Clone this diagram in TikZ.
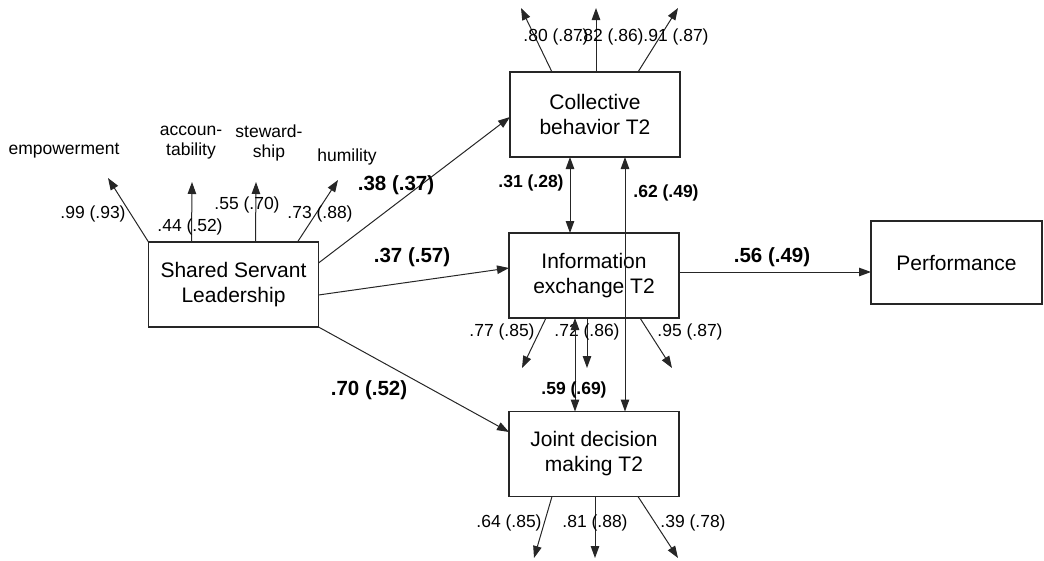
\documentclass[tikz,border=0pt]{standalone}
\usepackage{fontspec}
\setmainfont{Liberation Sans}
\usetikzlibrary{
	arrows.meta,
	positioning
}

\begin{document}
\begin{tikzpicture}[
    x=1pt, y=-1pt,
    box/.style={
        rectangle,
        draw=black!85,
        line width=1.1pt,
        minimum width=170pt,
        minimum height=85pt,
        inner sep=2pt,
        outer sep=0pt,
        font=\fontsize{21}{25}\selectfont,
        align=center
    },
    coef/.style={
        inner sep=0pt,
        font=\fontsize{17.5}{20}\selectfont,
        align=center
    },
    corr_label/.style={
        inner sep=0pt,
        font=\fontsize{17.5}{20}\selectfont\bfseries
    },
    path_label/.style={
        inner sep=0pt,
        font=\fontsize{20.5}{24}\selectfont\bfseries
    },
    data_edge/.style={
        -{Triangle[length=12pt,width=8.5pt]},
        line width=1pt,
        draw=black!85
    },
    corr_edge/.style={
        {Triangle[length=12pt,width=8.5pt]}-{Triangle[length=12pt,width=8.5pt]},
        line width=1pt,
        draw=black!85
    }
]
    \useasboundingbox (0,0) rectangle (1044,560);

    % ====== boxes ======
    \node[box] (ssl) at (233.5, 284.5) {Shared Servant\\Leadership};
    \node[box] (cb) at (595, 114.5) {Collective\\behavior T2};
    \node[box] (ie) at (594, 275.5) {Information\\exchange T2};
    \node[box] (jd) at (594, 454) {Joint decision\\making T2};
    \node[box, minimum width=171pt, minimum height=83pt] (perf) at (956.5, 262.5) {Performance};

    % ====== indicators of shared servant leadership ======
    \coordinate (emp) at (108, 178);
    \coordinate (acc) at (192, 182);
    \coordinate (stew) at (256, 182);
    \coordinate (hum) at (338, 180);
    \draw[data_edge] (ssl.north west) -- (emp);
    \draw[data_edge] ([xshift=43pt]ssl.north west) -- (acc);
    \draw[data_edge] ([xshift=107pt]ssl.north west) -- (stew);
    \draw[data_edge] ([xshift=149pt]ssl.north west) -- (hum);

    \node[coef] (emp_name) at (64, 151) {empowerment};
    \node[coef] (acc_name) at (191, 143) {accoun-\\tability};
    \node[coef] (stew_name) at (269, 143) {steward-\\ship};
    \node[coef] (hum_name) at (347, 157) {humility};
    \node[coef] (emp_load) at (93, 214) {.99 (.93)};
    \node[coef] (acc_load) at (190, 227) {.44 (.52)};
    \node[coef] (stew_load) at (247, 205) {.55 (.70)};
    \node[coef] (hum_load) at (320, 214) {.73 (.88)};

    % ====== indicators of the T2 team processes ======
    \coordinate (cb_a) at (521, 8);
    \coordinate (cb_b) at (596, 8);
    \coordinate (cb_c) at (678, 8);
    \draw[data_edge] ([xshift=42pt]cb.north west) -- (cb_a);
    \draw[data_edge] ([xshift=86pt]cb.north west) -- (cb_b);
    \draw[data_edge] ([xshift=128pt]cb.north west) -- (cb_c);
    \node[coef] at (556, 37) {.80 (.87)};
    \node[coef] at (611, 37) {.82 (.86)};
    \node[coef] at (676, 37) {.91 (.87)};

    \coordinate (ie_a) at (522, 368);
    \coordinate (ie_b) at (587, 368);
    \coordinate (ie_c) at (672, 368);
    \draw[data_edge] ([xshift=37pt]ie.south west) -- (ie_a);
    \draw[data_edge] ([xshift=78pt]ie.south west) -- (ie_b);
    \draw[data_edge] ([xshift=131pt]ie.south west) -- (ie_c);
    \node[coef] at (502, 332) {.77 (.85)};
    \node[coef] at (587, 332) {.72 (.86)};
    \node[coef] at (690, 332) {.95 (.87)};

    \coordinate (jd_a) at (534, 558);
    \coordinate (jd_b) at (595, 558);
    \coordinate (jd_c) at (678, 558);
    \draw[data_edge] ([xshift=43pt]jd.south west) -- (jd_a);
    \draw[data_edge] ([xshift=86pt]jd.south west) -- (jd_b);
    \draw[data_edge] ([xshift=129pt]jd.south west) -- (jd_c);
    \node[coef] at (509, 523) {.64 (.85)};
    \node[coef] at (595, 523) {.81 (.88)};
    \node[coef] at (693, 523) {.39 (.78)};

    % ====== structural paths ======
    \draw[data_edge] ([yshift=21.5pt]ssl.east) -- ([yshift=-2.5pt]cb.west);
    \draw[data_edge] ([yshift=-10.5pt]ssl.east) -- ([yshift=7.5pt]ie.west);
    \draw[data_edge] (ssl.south east) -- ([yshift=22pt]jd.west);
    \draw[data_edge] ([yshift=3.5pt]ie.east) -- ([yshift=3.5pt]ie.east -| perf.west);
    \node[path_label] at (396, 185) {.38 (.37)};
    \node[path_label] at (412, 257) {.37 (.57)};
    \node[path_label] at (369, 390) {.70 (.52)};
    \node[path_label] at (772, 257) {.56 (.49)};

    % ====== correlations among T2 processes ======
    \draw[corr_edge] ([xshift=60pt]cb.south west) -- ([xshift=61pt]ie.north west);
    \draw[corr_edge] ([xshift=115pt]cb.south west) -- ([xshift=116pt]jd.north west);
    \draw[corr_edge] ([xshift=66pt]ie.south west) -- ([xshift=66pt]jd.north west);
    \node[corr_label] at (531, 183) {.31 (.28)};
    \node[corr_label] at (666, 193) {.62 (.49)};
    \node[corr_label] at (574, 390) {.59 (.69)};

\end{tikzpicture}
\end{document}
